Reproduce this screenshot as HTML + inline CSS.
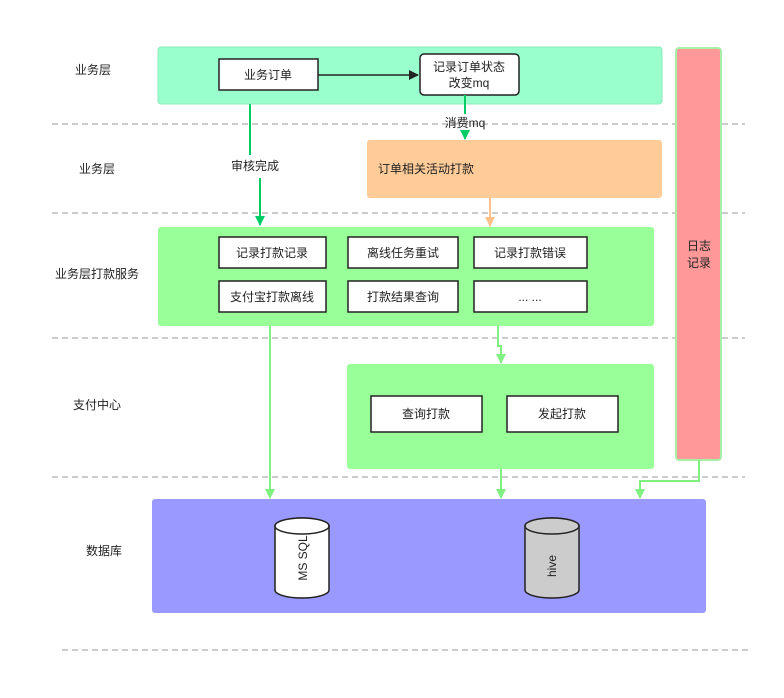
<!DOCTYPE html>
<html><head><meta charset="utf-8"><style>
html,body{margin:0;padding:0;background:#fff;}
svg text{font-family:"Liberation Sans","Noto Sans CJK SC",sans-serif;font-size:12px;fill:#222;}
</style></head><body>
<svg width="784" height="693" viewBox="0 0 784 693" xmlns="http://www.w3.org/2000/svg">
<defs>
<marker id="ab" markerWidth="10" markerHeight="10" refX="9" refY="5" orient="auto" markerUnits="userSpaceOnUse"><path d="M0,0 L10,5 L0,10 Z" fill="#222"/></marker>
<marker id="ag" markerWidth="10" markerHeight="12" refX="9" refY="5" orient="auto" markerUnits="userSpaceOnUse"><path d="M0,0 L10,5 L0,10 Z" fill="#00cc66"/></marker>
<marker id="al" markerWidth="10" markerHeight="12" refX="9" refY="5" orient="auto" markerUnits="userSpaceOnUse"><path d="M0,0 L10,5 L0,10 Z" fill="#80f080"/></marker>
<marker id="ao" markerWidth="10" markerHeight="12" refX="9" refY="5" orient="auto" markerUnits="userSpaceOnUse"><path d="M0,0 L10,5 L0,10 Z" fill="#ffc08a"/></marker>
</defs>
<g stroke="#999" stroke-dasharray="6,4" stroke-width="1">
<line x1="52" y1="124" x2="745" y2="124"/>
<line x1="52" y1="213" x2="745" y2="213"/>
<line x1="52" y1="338" x2="745" y2="338"/>
<line x1="52" y1="477" x2="745" y2="477"/>
<line x1="62" y1="650" x2="752" y2="650"/>
</g>
<text x="93" y="74" text-anchor="middle">业务层</text>
<text x="97" y="173" text-anchor="middle">业务层</text>
<text x="97" y="278" text-anchor="middle">业务层打款服务</text>
<text x="97" y="409" text-anchor="middle">支付中心</text>
<text x="104" y="555" text-anchor="middle">数据库</text>

<rect x="158" y="47" width="504" height="57" rx="3" fill="#99ffcc" stroke="#8ee8bb"/>
<rect x="219" y="59" width="99" height="31" fill="#fff" stroke="#222" stroke-width="1.5"/>
<text x="268" y="79" text-anchor="middle">业务订单</text>
<rect x="420" y="54" width="99" height="41" rx="4" fill="#fff" stroke="#222" stroke-width="1.5"/>
<text x="469" y="71" text-anchor="middle">记录订单状态</text>
<text x="469" y="87" text-anchor="middle">改变mq</text>
<line x1="318" y1="75" x2="418" y2="75" stroke="#222" stroke-width="1.5" marker-end="url(#ab)"/>

<rect x="367" y="140" width="295" height="58" rx="3" fill="#ffcc99"/>
<text x="378" y="173">订单相关活动打款</text>

<rect x="676" y="48" width="45" height="412" rx="3" fill="#ff9999" stroke="#a8f0a8" stroke-width="2"/>
<text x="699" y="250" text-anchor="middle">日志</text>
<text x="699" y="267" text-anchor="middle">记录</text>

<rect x="158" y="227" width="496" height="99" rx="3" fill="#99ff99"/>
<g fill="#fff" stroke="#222" stroke-width="1.5">
<rect x="219" y="237" width="107" height="31"/><rect x="348" y="237" width="110" height="31"/><rect x="474" y="237" width="113" height="31"/>
<rect x="219" y="281" width="107" height="31"/><rect x="348" y="281" width="110" height="31"/><rect x="474" y="281" width="113" height="31"/>
</g>
<text x="272" y="257" text-anchor="middle">记录打款记录</text>
<text x="403" y="257" text-anchor="middle">离线任务重试</text>
<text x="530" y="257" text-anchor="middle">记录打款错误</text>
<text x="272" y="301" text-anchor="middle">支付宝打款离线</text>
<text x="403" y="301" text-anchor="middle">打款结果查询</text>
<text x="530" y="301" text-anchor="middle">... ...</text>

<rect x="347" y="364" width="307" height="105" rx="3" fill="#99ff99"/>
<rect x="371" y="396" width="111" height="36" fill="#fff" stroke="#222" stroke-width="1.5"/>
<rect x="507" y="396" width="111" height="36" fill="#fff" stroke="#222" stroke-width="1.5"/>
<text x="426" y="418" text-anchor="middle">查询打款</text>
<text x="562" y="418" text-anchor="middle">发起打款</text>

<rect x="152" y="499" width="554" height="114" rx="3" fill="#9999ff"/>
<g stroke="#222" stroke-width="1.5">
<path d="M275,526 L275,590 A27,8 0 0 0 329,590 L329,526 A27,8 0 0 0 275,526 Z" fill="#fff"/>
<ellipse cx="302" cy="526" rx="27" ry="8" fill="#fff"/>
<path d="M525,526 L525,590 A27,8 0 0 0 579,590 L579,526 A27,8 0 0 0 525,526 Z" fill="#ccc"/>
<ellipse cx="552" cy="526" rx="27" ry="8" fill="#ccc"/>
</g>
<text transform="translate(307,558) rotate(-90)" text-anchor="middle">MS SQL</text>
<text transform="translate(556,566) rotate(-90)" text-anchor="middle">hive</text>

<g fill="none" stroke-width="2">
<path d="M250,104 L250,155" stroke="#00cc66"/>
<path d="M260,178 L260,225" stroke="#00cc66" marker-end="url(#ag)"/>
<path d="M465,95 L465,114" stroke="#00cc66"/>
<path d="M465,131 L465,139" stroke="#00cc66" marker-end="url(#ag)"/>
<path d="M490,198 L490,226" stroke="#ffc08a" marker-end="url(#ao)"/>
<path d="M270,326 L270,498" stroke="#80f080" marker-end="url(#al)"/>
<path d="M498,326 L498,346 L501,346 L501,363" stroke="#80f080" marker-end="url(#al)"/>
<path d="M501,469 L501,498" stroke="#80f080" marker-end="url(#al)"/>
<path d="M699,460 L699,481 L640,481 L640,498" stroke="#80f080" marker-end="url(#al)"/>
</g>
<text x="255" y="170" text-anchor="middle">审核完成</text>
<text x="465" y="127" text-anchor="middle">消费mq</text>
</svg>
</body></html>
